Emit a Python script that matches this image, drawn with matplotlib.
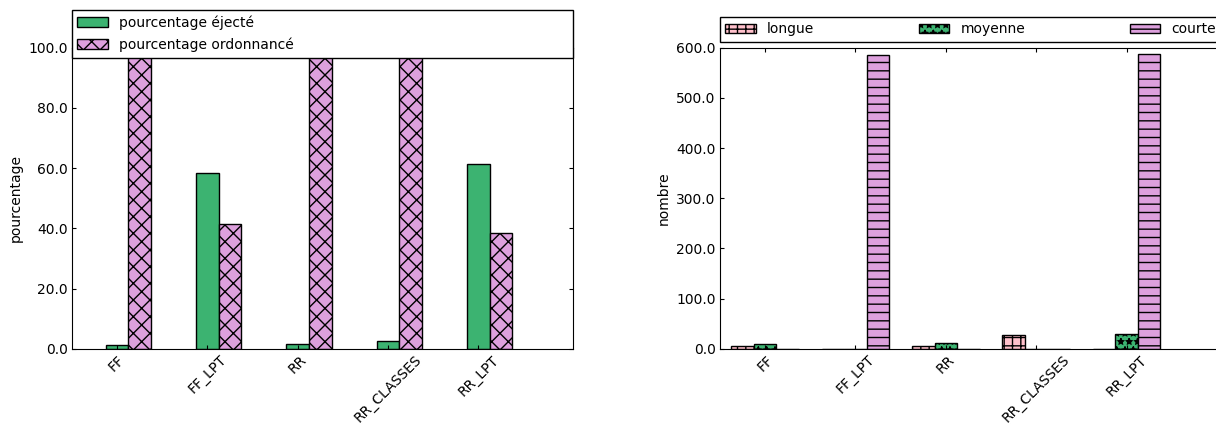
import numpy as np
import matplotlib.pyplot as plt
from matplotlib.ticker import FormatStrFormatter

plt.rcParams['font.family'] = ['DejaVu Sans']
plt.rcParams['font.size'] = 10

# données
algos = ['FF', 'FF_LPT', 'RR', 'RR_CLASSES', 'RR_LPT']
pct_ejecte = [1.1, 58.4, 1.4, 2.6, 61.4]
pct_ordonnance = [98.9, 41.6, 98.6, 97.4, 38.6]
nb_longue = [4.6, 0, 4.6, 26.6, 0]
nb_moyenne = [8.6, 0, 10.6, 0, 28.6]
nb_courte = [0, 586.5, 0, 0, 588.5]

x = np.arange(len(algos))
w = 0.25

fig = plt.figure(figsize=(12.16, 4.25), dpi=100)
ax1 = fig.add_axes([0.059, 0.1795, 0.4125, 0.708])
ax2 = fig.add_axes([0.592, 0.1795, 0.4125, 0.708])

# figure 1 : pourcentages
ax1.bar(x, pct_ejecte, w, color='#3cb371', edgecolor='black', linewidth=1,
        label='pourcentage éjecté')
ax1.bar(x + w, pct_ordonnance, w, color='#dda0dd', edgecolor='black', linewidth=1,
        hatch='xx', label='pourcentage ordonnancé')
ax1.set_ylim(0, 100)
ax1.set_ylabel('pourcentage')
ax1.legend(loc='lower left', bbox_to_anchor=(0, 0.967, 1, 0.1), mode='expand',
           borderaxespad=0, fancybox=False, edgecolor='black', framealpha=1,
           handlelength=2.2, labelspacing=0.55)

# figure 2 : nombre par type de tâche
ax2.bar(x - w, nb_longue, w, color='#ffc0cb', edgecolor='black', linewidth=1,
        hatch='++', label='longue')
ax2.bar(x, nb_moyenne, w, color='#3cb371', edgecolor='black', linewidth=1,
        hatch='**', label='moyenne')
ax2.bar(x + w, nb_courte, w, color='#dda0dd', edgecolor='black', linewidth=1,
        hatch='--', label='courte')
ax2.set_ylim(0, 600)
ax2.set_ylabel('nombre')
ax2.legend(loc='lower left', bbox_to_anchor=(0, 1.02, 1, 0.102), mode='expand',
           ncol=3, borderaxespad=0, fancybox=False, edgecolor='black', framealpha=1,
           handlelength=2.2)

for ax in (ax1, ax2):
    ax.set_xlim(-0.5, 5.05)
    ax.set_xticks(x)
    ax.set_xticklabels(algos, rotation=45)
    ax.yaxis.set_major_formatter(FormatStrFormatter('%.1f'))
    ax.tick_params(direction='in', top=True, right=True, length=3, pad=3)

plt.savefig('out.png', dpi=100)
